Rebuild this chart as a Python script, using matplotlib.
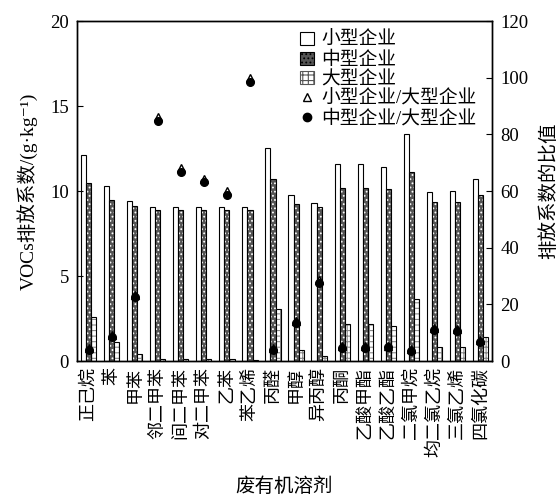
import numpy as np
import matplotlib
matplotlib.use('Agg')
import matplotlib.pyplot as plt
from matplotlib.patches import Patch
from matplotlib.lines import Line2D

plt.rcParams['font.family'] = ['Liberation Serif', 'Noto Sans CJK SC', 'DejaVu Serif']
plt.rcParams['hatch.linewidth'] = 0.8

# 废有机溶剂
solvents = ['正己烷', '苯', '甲苯', '邻二甲苯', '间二甲苯', '对二甲苯', '乙苯', '苯乙烯',
            '丙醛', '甲醇', '异丙醇', '丙酮', '乙酸甲酯', '乙酸乙酯', '二氯甲烷',
            '均二氯乙烷', '三氯乙烯', '四氯化碳']

# 排放系数 (g/kg)
small = [12.1, 10.3, 9.4, 9.05, 9.05, 9.05, 9.05, 9.05, 12.55, 9.75, 9.3,
         11.6, 11.6, 11.4, 13.35, 9.95, 10.0, 10.7]
medium = [10.45, 9.5, 9.1, 8.9, 8.9, 8.9, 8.9, 8.9, 10.7, 9.25, 9.05,
          10.2, 10.2, 10.1, 11.1, 9.35, 9.35, 9.75]
large = [2.6, 1.15, 0.42, 0.1, 0.12, 0.13, 0.14, 0.06, 3.05, 0.65, 0.33,
         2.2, 2.2, 2.05, 3.65, 0.84, 0.86, 1.43]

# 比值
ratio_small_large = [4.8, 9.3, 23.3, 86.3, 68.2, 64.4, 59.9, 99.8, 4.6, 14.3,
                     28.5, 5.2, 5.3, 5.5, 4.2, 11.6, 11.4, 7.5]
ratio_medium_large = [4.1, 8.6, 22.5, 84.8, 66.8, 63.1, 58.6, 98.4, 3.9, 13.6,
                      27.6, 4.5, 4.7, 4.9, 3.5, 10.9, 10.7, 6.8]

x = np.arange(len(solvents))
w = 0.22

fig = plt.figure(figsize=(5.59, 5.03), dpi=100)
ax = fig.add_axes([0.138, 0.282, 0.742, 0.676])
ax2 = ax.twinx()

# 小型企业
ax.bar(x - w, small, w, facecolor='white', edgecolor='black', linewidth=0.8)
# 中型企业 (底色+点状花纹, 再描边)
ax.bar(x, medium, w, facecolor='#555555', edgecolor='white', hatch='....', linewidth=0)
ax.bar(x, medium, w, fill=False, edgecolor='black', linewidth=0.8)
# 大型企业
ax.bar(x + w, large, w, facecolor='white', edgecolor='#888888', hatch='+++', linewidth=0)
ax.bar(x + w, large, w, fill=False, edgecolor='black', linewidth=0.8)

ax2.plot(x, ratio_small_large, linestyle='none', marker='^', markersize=6,
         markerfacecolor='white', markeredgecolor='black', markeredgewidth=1.0)
ax2.plot(x, ratio_medium_large, linestyle='none', marker='o', markersize=5.5,
         color='black')

ax.set_xlim(-0.5, len(solvents) - 0.5)
ax.set_ylim(0, 20)
ax.set_yticks([0, 5, 10, 15, 20])
ax2.set_ylim(0, 120)
ax2.set_yticks([0, 20, 40, 60, 80, 100, 120])

ax.set_xticks(x)
ax.set_xticklabels(solvents, rotation=90, fontsize=13, va='top', ha='center')
ax.tick_params(axis='x', length=0, pad=4)
ax.tick_params(axis='y', direction='in', length=4, labelsize=13.5, pad=6)
ax2.tick_params(axis='y', direction='in', length=4, labelsize=13.5, pad=6)

ax.set_ylabel('VOCs排放系数/(g·kg⁻¹)', fontsize=14, labelpad=9)
ax2.set_ylabel('排放系数的比值', fontsize=14, labelpad=8)
ax.set_xlabel('废有机溶剂', fontsize=14, labelpad=15)

for a in (ax, ax2):
    for s in a.spines.values():
        s.set_linewidth(1.0)

handles = [
    Patch(facecolor='white', edgecolor='black', linewidth=0.8, label='小型企业'),
    Patch(facecolor='#555555', edgecolor='black', hatch='....', linewidth=0.8, label='中型企业'),
    Patch(facecolor='white', edgecolor='#555555', hatch='+++', linewidth=0.8, label='大型企业'),
    Line2D([], [], linestyle='none', marker='^', markersize=6, markerfacecolor='white',
           markeredgecolor='black', label='小型企业/大型企业'),
    Line2D([], [], linestyle='none', marker='o', markersize=6, color='black',
           label='中型企业/大型企业'),
]
ax2.legend(handles=handles, loc='upper right', bbox_to_anchor=(0.985, 0.995), frameon=False,
           fontsize=13.5, handlelength=0.7, handleheight=0.7, handletextpad=0.4,
           labelspacing=0.12, borderaxespad=0.1)

fig.savefig('out.png', dpi=100)
